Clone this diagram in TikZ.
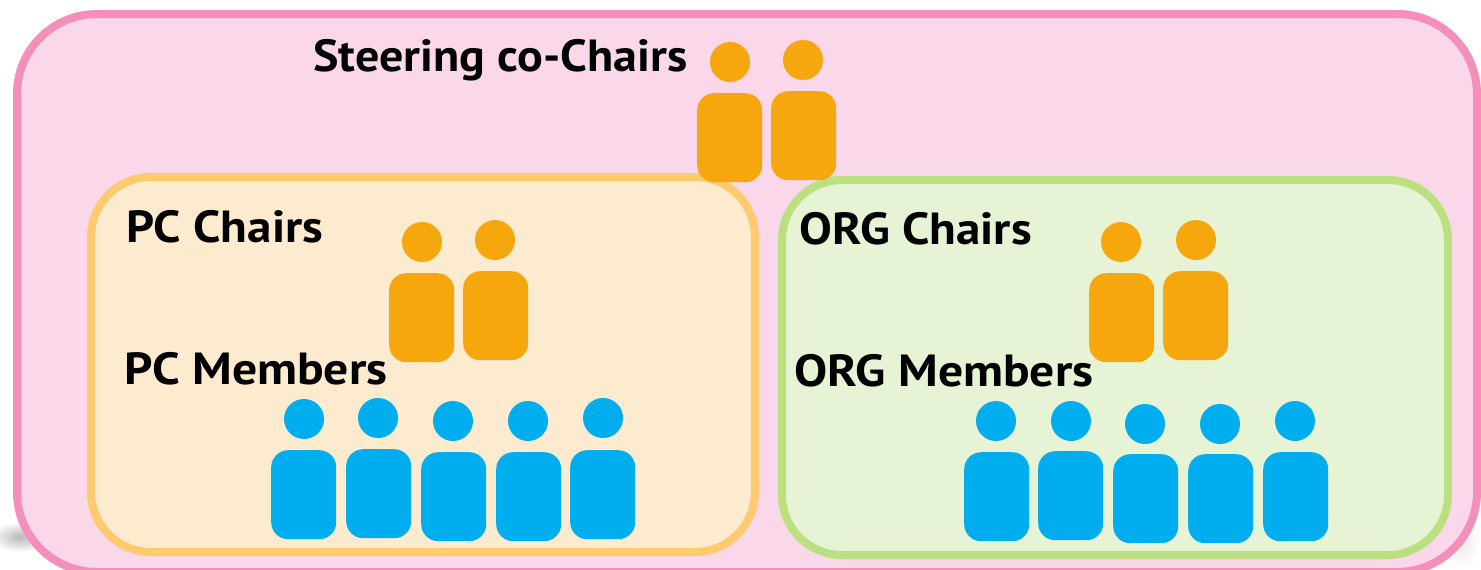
\documentclass[tikz,border=0pt]{standalone}
\usepackage{graphicx}
\usepackage{fontspec}
\setmainfont{PT Sans}[BoldFont={PT Sans Bold},BoldFeatures={FakeStretch=1.09}]
\definecolor{outerfill}{HTML}{FAD7E9}
\definecolor{outerline}{HTML}{F48FBB}
\definecolor{pcfill}{HTML}{FCEBCF}
\definecolor{pcline}{HTML}{FDCA6E}
\definecolor{orgfill}{HTML}{E7F3D5}
\definecolor{orgline}{HTML}{BBE07F}
\definecolor{chair}{HTML}{F7A70E}
\definecolor{member}{HTML}{00AEEF}
\tikzset{
  body/.style={fill=#1,rounded corners=17pt,minimum width=65pt,minimum height=89pt,inner sep=0pt,anchor=north west},
  head/.style={fill=#1,circle,minimum size=40pt,inner sep=0pt},
  region/.style={line width=8pt,rounded corners=#1},
  lbl/.style={anchor=base west,inner sep=0pt,font=\bfseries\fontsize{45}{45}\selectfont,text=black}
}
\newcommand{\person}[6]{%
  \node[body=#6] (#1b) at (#2,#3) {};
  \node[head=#6] (#1h) at (#4,#5) {};
}
\begin{document}
\begin{tikzpicture}[x=1pt,y=-1pt]
\useasboundingbox (0,0) rectangle (1481,570);
\fill[white] (0,0) rectangle (1481,570);
\shade[inner color=black!28,outer color=white] (-10,522) rectangle (50,552);
\shade[inner color=black!8,outer color=white] (1440,510) rectangle (1481,570);
\draw[region=80pt,draw=outerline,fill=outerfill] (17,14) rectangle (1477,572);
\draw[region=60pt,draw=pcline,fill=pcfill] (91,177) rectangle (755,552);
\draw[region=60pt,draw=orgline,fill=orgfill] (782,180) rectangle (1448,555);
\person{sa}{697}{93}{730}{62}{chair}
\person{sb}{771}{91}{803}{60}{chair}
\person{pa}{389}{273}{422}{242}{chair}
\person{pb}{463}{271}{495}{240}{chair}
\person{oa}{1089}{273}{1121}{242}{chair}
\person{ob}{1163}{271}{1196}{240}{chair}
\person{ma}{271}{450}{304}{419}{member}
\person{mb}{346}{449}{378}{418}{member}
\person{mc}{421}{452}{453}{421}{member}
\person{md}{496}{452}{528}{421}{member}
\person{me}{570}{450}{603}{418}{member}
\person{na}{964}{452}{996}{421}{member}
\person{nb}{1038}{451}{1071}{421}{member}
\person{nc}{1113}{454}{1145}{424}{member}
\person{nd}{1188}{454}{1220}{424}{member}
\person{ne}{1263}{452}{1295}{421}{member}
\node[lbl] (steer) at (313,71) {\scalebox{0.979}[1]{Steering co-Chairs}};
\node[lbl] (pcc) at (126,242) {PC Chairs};
\node[lbl] (orgc) at (799,244) {ORG Chairs};
\node[lbl] (pcm) at (124,384) {\scalebox{1.012}[1]{PC Members}};
\node[lbl] (orgm) at (794,386) {\scalebox{1.012}[1]{ORG Members}};
\end{tikzpicture}
\end{document}
